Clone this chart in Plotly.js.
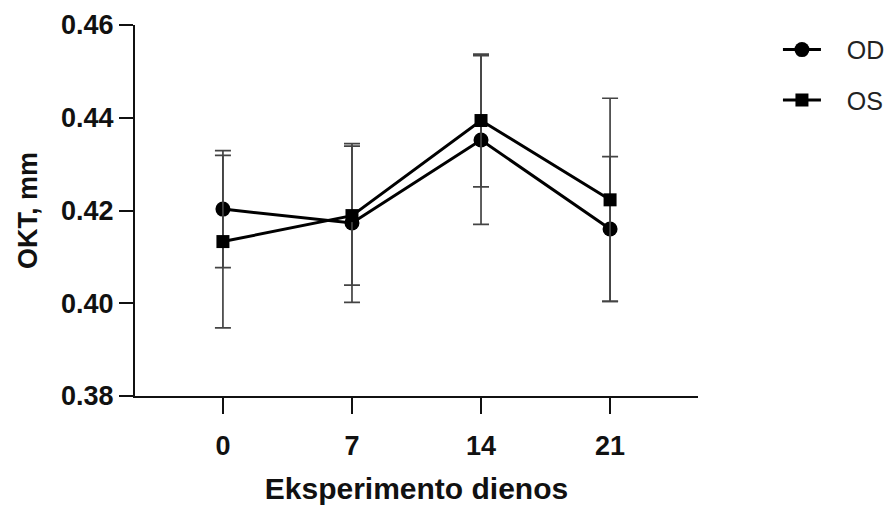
<!DOCTYPE html>
<html>
<head>
<meta charset="utf-8">
<script src="https://cdn.plot.ly/plotly-3.0.1.min.js"></script>
<style>
  html, body { margin: 0; padding: 0; background: #fff; }
  #chart { width: 892px; height: 505px; }
</style>
</head>
<body>
<div id="chart"></div>
<script>
// Experiment days
const days = [0, 7, 14, 21];
const dayLabels = ['0', '7', '14', '21'];

// OKT (mm), right eye (OD) and left eye (OS), mean and SD
const odMean = [0.4203, 0.4173, 0.4352, 0.4160];
const odSd   = [0.0126, 0.0171, 0.0182, 0.0156];
const osMean = [0.4133, 0.4189, 0.4394, 0.4223];
const osSd   = [0.0186, 0.0150, 0.0143, 0.0219];

const yTicks = [0.38, 0.40, 0.42, 0.44, 0.46];

const FONT = 'Liberation Sans, Arial, sans-serif';
const PAD = '\u00a0\u00a0\u00a0';

function series(name, y, sd, symbol, size, group) {
  return {
    type: 'scatter',
    mode: 'lines+markers',
    name: name,
    legendgroup: group,
    x: days,
    y: y,
    line: { color: '#000', width: 3 },
    marker: { symbol: symbol, size: size, color: '#000' },
    error_y: {
      type: 'data',
      array: sd,
      visible: true,
      color: '#444',
      thickness: 1.7,
      width: 8
    },
    cliponaxis: false
  };
}

const data = [
  series(PAD + 'OD', odMean, odSd, 'circle', 15, 'od'),
  series(PAD + 'OS', osMean, osSd, 'square', 13, 'os')
];

const layout = {
  width: 892,
  height: 505,
  margin: { l: 135, r: 194, t: 25, b: 109, autoexpand: false },
  paper_bgcolor: '#fff',
  plot_bgcolor: '#fff',
  font: { family: FONT, color: '#000' },
  showlegend: true,
  legend: {
    x: 1.142, y: 0.995, xanchor: 'left', yanchor: 'top',
    font: { family: FONT, size: 25, color: '#222' },
    itemwidth: 38,
    traceorder: 'grouped',
    tracegroupgap: 15,
    bgcolor: 'rgba(0,0,0,0)'
  },
  xaxis: {
    range: [-4.77, 25.77],
    tickmode: 'array',
    tickvals: days,
    ticktext: dayLabels,
    ticks: 'outside',
    ticklen: 16,
    tickwidth: 2.5,
    tickcolor: '#111',
    ticklabelstandoff: 9,
    showline: true,
    linewidth: 2,
    linecolor: '#111',
    showgrid: false,
    zeroline: false,
    tickfont: { family: FONT, size: 27, weight: 'bold', color: '#111' },
    title: {
      text: 'Eksperimento dienos',
      font: { family: FONT, size: 30, weight: 'bold', color: '#111' },
      standoff: 18
    }
  },
  yaxis: {
    range: [0.38, 0.46],
    tickmode: 'array',
    tickvals: yTicks,
    ticktext: yTicks.map(v => v.toFixed(2)),
    ticks: 'outside',
    ticklen: 14,
    tickwidth: 2,
    tickcolor: '#111',
    showline: true,
    linewidth: 2,
    linecolor: '#111',
    showgrid: false,
    zeroline: false,
    tickfont: { family: FONT, size: 27, weight: 'bold', color: '#111' },
    title: {
      text: 'OKT, mm',
      font: { family: FONT, size: 27, weight: 'bold', color: '#111' },
      standoff: 16
    }
  }
};

Plotly.newPlot('chart', data, layout, { displayModeBar: false, staticPlot: true });
</script>
</body>
</html>
